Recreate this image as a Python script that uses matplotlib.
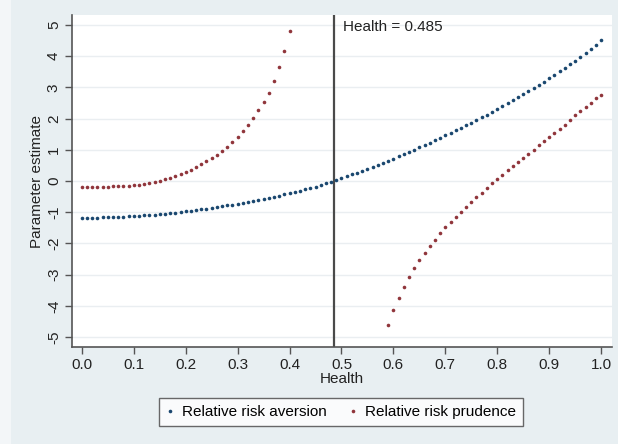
import matplotlib
matplotlib.use("Agg")
import matplotlib.pyplot as plt
from matplotlib.patches import Rectangle
import numpy as np

plt.rcParams['font.family'] = ['Liberation Sans', 'DejaVu Sans']

# health grid (steps of 0.01)
health = [round(0.01 * i, 2) for i in range(101)]

# relative risk aversion, one value per health step
rra = [-1.17, -1.17, -1.17, -1.17, -1.16, -1.16, -1.15, -1.15, -1.14, -1.13,
       -1.12, -1.11, -1.10, -1.09, -1.08, -1.06, -1.05, -1.03, -1.01, -0.99,
       -0.97, -0.95, -0.93, -0.91, -0.89, -0.86, -0.84, -0.81, -0.78, -0.76,
       -0.73, -0.70, -0.67, -0.64, -0.61, -0.57, -0.54, -0.50, -0.47, -0.43,
       -0.39, -0.35, -0.31, -0.27, -0.23, -0.18, -0.13, -0.08, -0.03, 0.03,
       0.09, 0.15, 0.21, 0.27, 0.33, 0.39, 0.46, 0.52, 0.59, 0.65,
       0.72, 0.79, 0.86, 0.93, 1.00, 1.08, 1.15, 1.23, 1.30, 1.38,
       1.46, 1.54, 1.62, 1.70, 1.78, 1.87, 1.95, 2.04, 2.13, 2.22,
       2.31, 2.40, 2.49, 2.59, 2.68, 2.78, 2.88, 2.98, 3.08, 3.18,
       3.29, 3.40, 3.51, 3.62, 3.74, 3.86, 3.98, 4.11, 4.24, 4.37,
       4.51]

# relative risk prudence, low branch (health 0.00 - 0.40)
rrp_low_x = health[:41]
rrp_low = [-0.19, -0.19, -0.19, -0.19, -0.18, -0.18, -0.17, -0.17, -0.16, -0.15,
           -0.14, -0.12, -0.09, -0.06, -0.03, 0.01, 0.05, 0.11, 0.16, 0.22,
           0.29, 0.36, 0.45, 0.53, 0.63, 0.73, 0.84, 0.96, 1.10, 1.25,
           1.41, 1.59, 1.78, 2.01, 2.26, 2.53, 2.83, 3.22, 3.65, 4.16,
           4.80]

# relative risk prudence, high branch (health 0.59 - 1.00)
rrp_high_x = health[59:]
rrp_high = [-4.61, -4.14, -3.75, -3.40, -3.09, -2.80, -2.54, -2.30, -2.08, -1.88,
            -1.68, -1.49, -1.31, -1.14, -0.98, -0.82, -0.67, -0.52, -0.37, -0.22,
            -0.08, 0.05, 0.20, 0.34, 0.47, 0.61, 0.74, 0.88, 1.00, 1.14,
            1.27, 1.41, 1.55, 1.68, 1.81, 1.95, 2.10, 2.24, 2.38, 2.51,
            2.65, 2.77]

cutoff = 0.485
xticks = [0.0, 0.1, 0.2, 0.3, 0.4, 0.5, 0.6, 0.7, 0.8, 0.9, 1.0]
yticks = [-5, -4, -3, -2, -1, 0, 1, 2, 3, 4, 5]

navy = '#1a476f'
maroon = '#90353b'
bg = '#e8eff2'
axcol = '#555555'
fs = 11

fig = plt.figure(figsize=(6.18, 4.44), dpi=100)
fig.patch.set_facecolor(bg)
fig.patches.append(Rectangle((0, 0), 11 / 618, 1, transform=fig.transFigure,
                             facecolor='#f3f6f8', edgecolor='none', zorder=0))

ax = fig.add_axes([72 / 618, 1 - 347 / 444, 540 / 618, 332 / 444])
ax.set_facecolor('white')

for y in yticks:
    ax.axhline(y, color='#eaeef1', lw=1.0, zorder=0)

ax.plot(health, rra, ls='none', marker='o', ms=2.6, mew=0, color=navy,
        label='Relative risk aversion', zorder=3)
ax.plot(rrp_low_x, rrp_low, ls='none', marker='o', ms=2.6, mew=0, color=maroon,
        label='Relative risk prudence', zorder=3)
ax.plot(rrp_high_x, rrp_high, ls='none', marker='o', ms=2.6, mew=0, color=maroon,
        zorder=3)

ax.axvline(cutoff, color='#4a4a4a', lw=1.6, zorder=2)
ax.text(cutoff + 0.018, 4.95, 'Health = 0.485', fontsize=fs, color='#222222',
        va='center', ha='left')

ax.set_xlim(-0.019, 1.021)
ax.set_ylim(-5.32, 5.32)
ax.set_xticks(xticks)
ax.set_xticklabels(['%.1f' % t for t in xticks])
ax.set_yticks(yticks)
ax.set_yticklabels([str(t) for t in yticks], rotation=90, va='center')

for side in ['top', 'right']:
    ax.spines[side].set_visible(False)
for side in ['left', 'bottom']:
    ax.spines[side].set_color(axcol)
    ax.spines[side].set_linewidth(1.2)
ax.tick_params(axis='both', direction='out', length=5, width=1.0, color=axcol,
               labelsize=fs, labelcolor='#222222', pad=3)

ax.set_xlabel('Health', fontsize=fs, color='#222222', labelpad=0)
ax.set_ylabel('Parameter estimate', fontsize=fs, color='#222222', labelpad=2)

leg = fig.legend(loc='center', bbox_to_anchor=(341 / 618, 1 - 412 / 444), ncol=2,
                 frameon=True, fancybox=False, fontsize=fs, markerscale=1.0,
                 handlelength=0.6, handletextpad=0.5, columnspacing=1.4,
                 borderpad=0.45)
leg.get_frame().set_edgecolor('#444444')
leg.get_frame().set_linewidth(1.0)
leg.get_frame().set_facecolor('white')

fig.savefig('out.png', dpi=100, facecolor=bg)
